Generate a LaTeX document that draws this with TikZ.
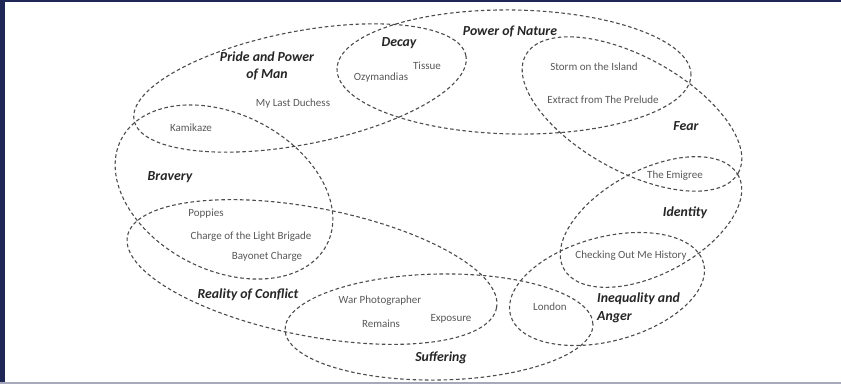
\documentclass[tikz,border=0pt]{standalone}
\usepackage{fontspec}
\setmainfont{Carlito}
\usepackage{xcolor}
\usetikzlibrary{shapes.geometric}
\definecolor{framenavy}{HTML}{1F2757}
\definecolor{framegray}{HTML}{A8A8BC}

\begin{document}
\begin{tikzpicture}[x=1pt, y=-1pt,
    theme/.style={ellipse, draw=black!70, line width=1.1pt, dash pattern=on 3.6pt off 2.6pt, inner sep=0pt, outer sep=0pt},
    themetxt/.style={font=\fontsize{13.8}{17.5}\selectfont\bfseries\itshape, text=black!85, align=center, inner sep=0pt},
    poem/.style={font=\fontsize{11}{13}\selectfont, text=black!65, inner sep=0pt}
]
    % Page and frame
    \fill[white] (0,0) rectangle (841,384);
    \useasboundingbox (0,0) rectangle (841,384);
    \fill[framenavy] (0,0) rectangle (841,2.2);
    \fill[framenavy] (0,0) rectangle (5,384);
    \fill[framegray] (0,382) rectangle (841,384);

    % Themes
    \node[theme, minimum width=338, minimum height=113, rotate=11] (pride) at (300,88) {};
    \node[theme, minimum width=354, minimum height=124, rotate=-1] (nature) at (514,72) {};
    \node[theme, minimum width=243, minimum height=114, rotate=-29] (fear) at (632,114) {};
    \node[theme, minimum width=231, minimum height=156, rotate=-27] (bravery) at (224,192) {};
    \node[theme, minimum width=376, minimum height=128, rotate=-11] (conflict) at (312,272) {};
    \node[theme, minimum width=308, minimum height=106, rotate=1] (suffering) at (439,327) {};
    \node[theme, minimum width=200, minimum height=104, rotate=15] (inequality) at (607,289) {};
    \node[theme, minimum width=198, minimum height=104, rotate=28] (identity) at (651,222) {};

    % Theme names
    \node[themetxt] (pridetxt) at (267,66) {Pride and Power\\of Man};
    \node[themetxt] (decaytxt) at (399,43) {Decay};
    \node[themetxt] (naturetxt) at (510,32) {Power of Nature};
    \node[themetxt] (feartxt) at (686,126) {Fear};
    \node[themetxt] (identitytxt) at (685,213) {Identity};
    \node[themetxt] (braverytxt) at (170,177) {Bravery};
    \node[themetxt] (conflicttxt) at (248,295) {Reality of Conflict};
    \node[themetxt] (sufferingtxt) at (441,358) {Suffering};
    \node[themetxt, align=left, anchor=west] (inequalitytxt) at (597,308) {Inequality and\\Anger};

    % Poems
    \node[poem] (duchess) at (293,104) {My Last Duchess};
    \node[poem] (ozymandias) at (381,78) {Ozymandias};
    \node[poem] (tissue) at (427,66) {Tissue};
    \node[poem] (storm) at (594,67) {Storm on the Island};
    \node[poem] (prelude) at (603,100) {Extract from The Prelude};
    \node[poem] (emigree) at (675,176) {The Emigree};
    \node[poem] (kamikaze) at (191,128) {Kamikaze};
    \node[poem] (poppies) at (206,214) {Poppies};
    \node[poem] (brigade) at (251,237) {Charge of the Light Brigade};
    \node[poem] (bayonet) at (267,257) {Bayonet Charge};
    \node[poem] (photographer) at (380,301) {War Photographer};
    \node[poem] (remains) at (381,324) {Remains};
    \node[poem] (exposure) at (451,319) {Exposure};
    \node[poem] (london) at (550,307) {London};
    \node[poem] (history) at (631,256) {Checking Out Me History};
\end{tikzpicture}
\end{document}
